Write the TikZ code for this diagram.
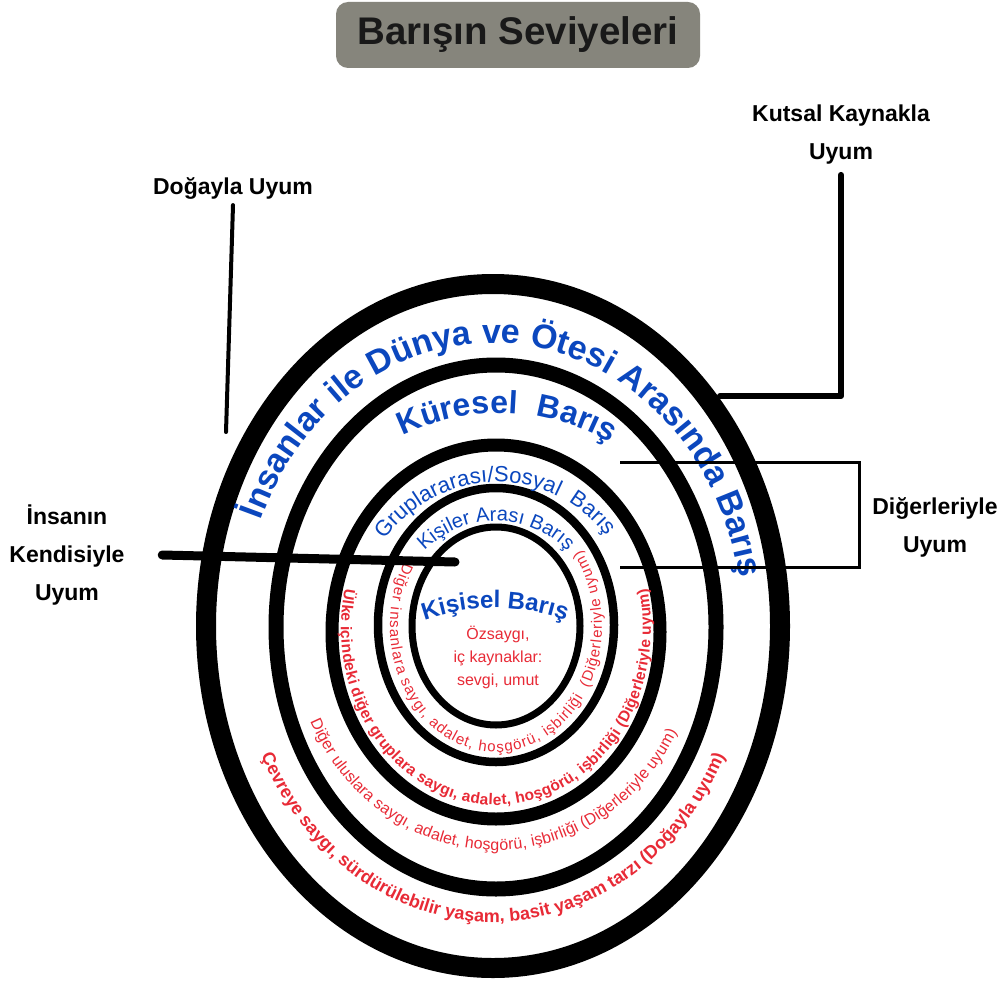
\documentclass[tikz,border=0pt]{standalone}
\usepackage{fontspec}
\setmainfont{Liberation Sans}
\usetikzlibrary{decorations.text}
\definecolor{tblue}{HTML}{0B47BE}
\definecolor{tred}{HTML}{E82A36}
\definecolor{tgray}{HTML}{86857C}
% #1 font, #2 extra decoration keys, #3 cx, #4 cy, #5 a, #6 b, #7 start, #8 end, #9 text
\newcommand\arctext[9]{\path[decorate,decoration={text along path,text align=center,#2,text={|#1|#9}}] (#3,#4) ++(#7:#5 and #6) arc[start angle=#7,end angle=#8,x radius=#5,y radius=#6];}
\begin{document}
\begin{tikzpicture}[x=1pt,y=1pt,
  lbl/.style={inner sep=0pt,align=center,font=\fontsize{23}{38}\selectfont\bfseries},
  ringline/.style={draw=black}]
\fill[white] (0,0) rectangle (1003,-987);
\useasboundingbox (0,0) rectangle (1003,-987);
% title
\node[fill=tgray,rounded corners=12pt,minimum width=364pt,minimum height=66pt,inner sep=0pt,
  font=\fontsize{38.5}{40}\selectfont\bfseries,text=black!90] (title) at (518,-35) {Barışın Seviyeleri};
% rings
\draw[ringline,line width=20pt] (493,-626) ellipse[x radius=287,y radius=342];
\draw[ringline,line width=15pt] (496,-627) ellipse[x radius=220,y radius=262];
\draw[ringline,line width=13pt] (496,-632) ellipse[x radius=164,y radius=187];
\draw[ringline,line width=8.5pt] (496,-625) ellipse[x radius=118,y radius=137];
\draw[ringline,line width=7pt] (496,-626) ellipse[x radius=84,y radius=99];
% curved texts
\arctext{\fontsize{34}{34}\selectfont\bfseries}{text color=tblue}{493}{-626}{250}{283}{170}{-2}{İnsanlar ile Dünya ve Ötesi Arasında Barış}
\arctext{\fontsize{32}{32}\selectfont\bfseries}{text color=tblue}{500}{-633}{220}{220}{150}{26}{Küresel{\kern10pt} Barış}
\arctext{\fontsize{22}{22}\selectfont}{text color=tblue}{497}{-630}{142}{148}{166}{16}{Gruplararası/Sosyal{\kern6pt} Barış}
\arctext{\fontsize{20}{20}\selectfont}{text color=tblue}{496}{-626}{102}{105}{160}{20}{Kişiler Arası Barış}
\arctext{\fontsize{24}{24}\selectfont\bfseries}{text color=tblue}{495}{-818}{210}{210}{115}{65}{Kişisel Barış}
\arctext{\fontsize{15}{15}\selectfont}{text color=tred,text align=fit to path}{496}{-626}{106}{126}{150}{397}{Diğer insanlara saygı, adalet, hoşgörü, işbirliği{\kern4pt} (Diğerleriyle uyum)}
\arctext{\fontsize{15.5}{15.5}\selectfont\bfseries}{text color=tred,text align=fit to path}{496}{-628}{155}{177}{167}{373}{Ülke içindeki diğer gruplara saygı, adalet, hoşgörü, işbirliği (Diğerleriyle uyum)}
\arctext{\fontsize{16}{16}\selectfont}{text color=tred,text align=fit to path}{496}{-628}{205}{222}{205}{332}{Diğer uluslara saygı, adalet, hoşgörü, işbirliği (Diğerleriyle uyum)}
\arctext{\fontsize{18}{18}\selectfont\bfseries}{text color=tred,text align=fit to path}{493}{-626}{258}{296}{206}{334}{Çevreye saygı, sürdürülebilir yaşam, basit yaşam tarzı (Doğayla uyum)}
% centre text
\node[inner sep=0pt,align=center,text=tred,font=\fontsize{16}{23}\selectfont] (core) at (498,-657) {Özsaygı,\\iç kaynaklar:\\sevgi, umut};
% labels
\node[lbl] (dog) at (233,-188) {Doğayla Uyum};
\node[lbl] (kut) at (841,-135) {Kutsal Kaynakla\\Uyum};
\node[lbl] (ins) at (67,-555) {İnsanın\\Kendisiyle\\Uyum};
\node[lbl] (dig) at (935,-527) {Diğerleriyle\\Uyum};
% connector ends
\coordinate (dogend) at (226,-432);
\coordinate (kutend) at (720,-396);
\coordinate (insend) at (455,-562);
\coordinate (brtop) at (620,-462);
\coordinate (brbot) at (620,-567);
% connectors
\draw[line width=4pt,line cap=round] ([yshift=-6pt]dog.south) -- (dogend);
\draw[line width=6pt,line cap=round,line join=round] ([yshift=-10pt]kut.south) |- (kutend);
\draw[line width=9pt,line cap=round] ([xshift=37.5pt]ins.east) -- (insend);
\draw[line width=3pt] (brtop) -| ([xshift=-13pt]dig.west) |- (brbot);
\end{tikzpicture}
\end{document}
